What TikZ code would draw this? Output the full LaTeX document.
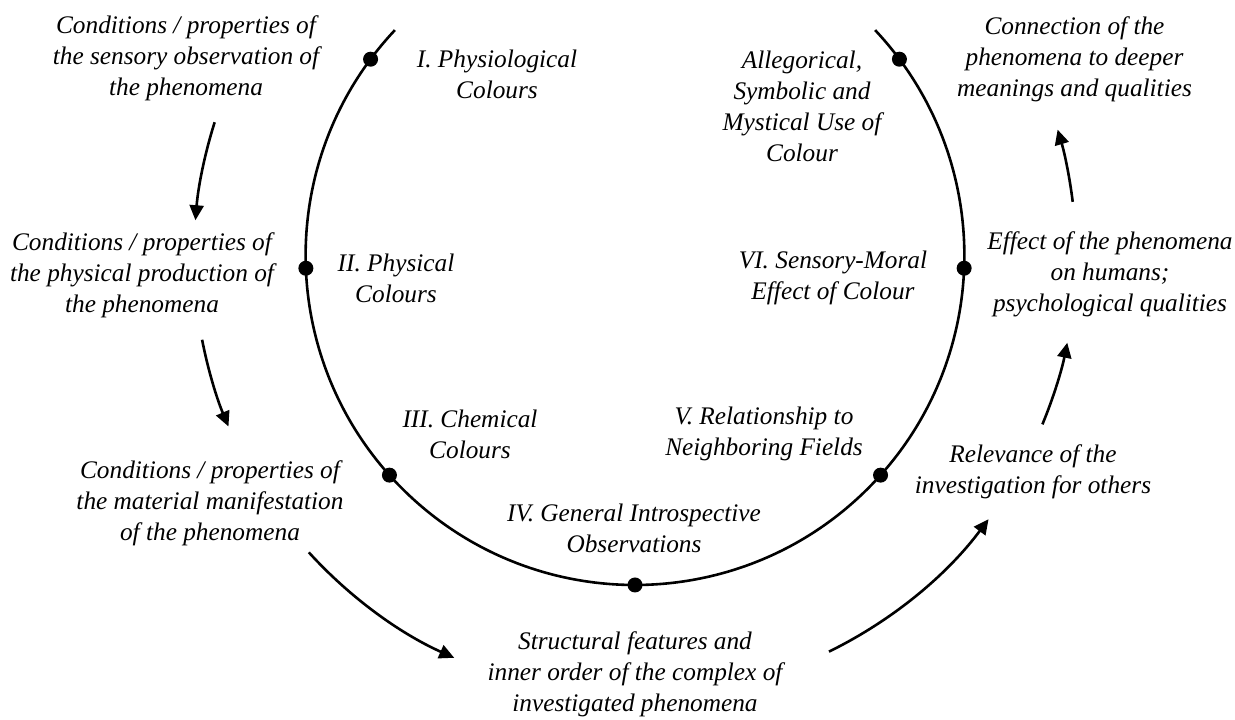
\documentclass[tikz,border=0pt]{standalone}
\usepackage{fontspec}
\setmainfont{Liberation Serif}
\usetikzlibrary{arrows.meta,calc}
\begin{document}
\begin{tikzpicture}[x=1pt,y=1pt,
  txt/.style={font=\fontsize{25.3}{31}\selectfont\itshape, align=center, inner sep=0pt},
  dot/.style={circle, fill=black, inner sep=0pt, minimum size=15pt},
  ring/.style={line width=2.6pt},
  flow/.style={line width=2.6pt, -{Triangle[length=15pt,width=14pt]}}]
\useasboundingbox (0,0) rectangle (1235,720);
\def\R{329.4}
\def\Ro{441}
\coordinate (c) at (635,464.4);
% main ring
\coordinate (ringstart) at ($(c)+(136.8:\R)$);
\draw[ring] (ringstart) arc[start angle=136.8, end angle=403.2, radius=\R];
% dots
\foreach \a/\n in {143.4/d1,182.2/d2,221.8/d3,270/d4,318.2/d5,357.8/d6,36.6/d7}
  \node[dot] (\n) at ($(c)+(\a:\R)$) {};
% outer flow arrows
\foreach \s/\e/\n in {162.4/175.4/a1,191/202.8/a2,222.3/245.8/a3,296.1/323.3/a4,337.5/348.6/a5,367/376.6/a6}{
  \coordinate (\n) at ($(c)+(\s:\Ro)$);
  \draw[flow] (\n) arc[start angle=\s, end angle=\e, radius=\Ro];
}
% outer texts
\node[txt] (t1) at (186,662) {Conditions / properties of\\the sensory observation of\\the phenomena};
\node[txt] (t2) at (142,445) {Conditions / properties of\\the physical production of\\the phenomena};
\node[txt] (t3) at (210,217) {Conditions / properties of\\the material manifestation\\of the phenomena};
\node[txt] (t4) at (635,46) {Structural features and\\inner order of the complex of\\investigated phenomena};
\node[txt] (t5) at (1033,248) {Relevance of the\\investigation for others};
\node[txt] (t6) at (1110,446) {Effect of the phenomena\\on humans;\\psychological qualities};
\node[txt] (t7) at (1074.5,661) {Connection of the\\phenomena to deeper\\meanings and qualities};
% inner labels
\node[txt] (l1) at (497,646) {I. Physiological\\Colours};
\node[txt] (l2) at (396,442) {II. Physical\\Colours};
\node[txt] (l3) at (470,286) {III. Chemical\\Colours};
\node[txt] (l4) at (634,192) {IV. General Introspective\\Observations};
\node[txt] (l5) at (764,286) {V. Relationship to\\Neighboring Fields};
\node[txt] (l6) at (833,442) {VI. Sensory-Moral\\Effect of Colour};
\node[txt] (l7) at (802,613.5) {Allegorical,\\Symbolic and\\Mystical Use of\\Colour};
\end{tikzpicture}
\end{document}
